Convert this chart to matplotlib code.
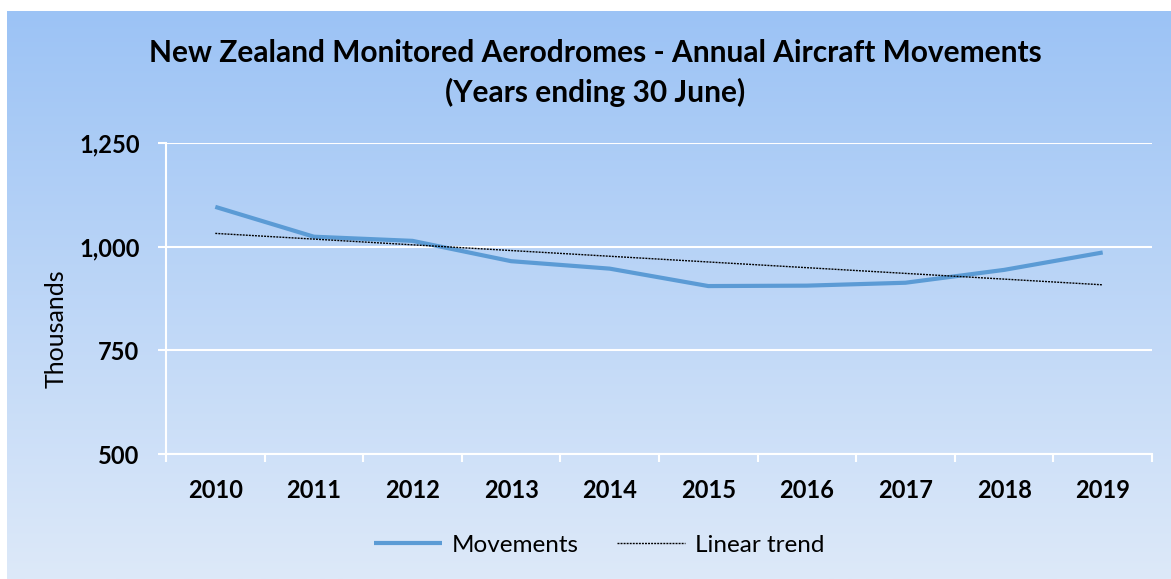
import numpy as np
import matplotlib.pyplot as plt
from matplotlib.colors import LinearSegmentedColormap

years = ['2010', '2011', '2012', '2013', '2014', '2015', '2016', '2017', '2018', '2019']
movements = [1096, 1024, 1014, 965, 947, 905, 906, 913, 944, 986]
y_ticks = [500, 750, 1000, 1250]

plt.rcParams['font.family'] = ['Lato', 'DejaVu Sans']

W, H = 1171, 579
fig = plt.figure(figsize=(W / 100, H / 100), dpi=100)
fig.patch.set_facecolor('white')

# gradient background of the chart area
bg = fig.add_axes([7 / W, 0, 1 - 7 / W, 1 - 11 / H], zorder=0)
cmap = LinearSegmentedColormap.from_list('bg', ['#9cc3f5', '#dde9f9'])
bg.imshow(np.linspace(0, 1, 256).reshape(-1, 1), aspect='auto', cmap=cmap,
          extent=[0, 1, 0, 1])
bg.set_axis_off()

ax = fig.add_axes([166 / W, 1 - 454 / H, (1152 - 166) / W, (454 - 143) / H], zorder=1)
ax.patch.set_alpha(0)

x = np.arange(len(years))
ax.plot(x, movements, color='#5b9bd5', lw=3.0, solid_capstyle='butt', label='Movements',
        zorder=3)
coef = np.polyfit(x, movements, 1)
ax.plot(x, np.polyval(coef, x), color='black', lw=1.0, ls=(0, (1.4, 0.8)),
        label='Linear trend', zorder=4)

ax.set_xlim(-0.5, len(years) - 0.5)
ax.set_ylim(500, 1250)
ax.set_yticks(y_ticks)
ax.set_yticklabels([f'{v:,}' for v in y_ticks], fontsize=17, fontweight='bold')
ax.set_xticks(x)
ax.set_xticklabels(years, fontsize=17, fontweight='bold')
ax.set_xticks(np.arange(-0.5, len(years)), minor=True)
ax.tick_params(axis='x', which='major', length=0, pad=18)
ax.tick_params(axis='x', which='minor', length=6, color='white', width=1.5)
ax.tick_params(axis='y', length=6, color='white', width=1.5, pad=13)
ax.grid(axis='y', color='white', lw=1.5)
for s in ['top', 'right']:
    ax.spines[s].set_visible(False)
for s in ['left', 'bottom']:
    ax.spines[s].set_color('white')
    ax.spines[s].set_linewidth(1.5)

fig.text(56 / W, 1 - 329 / H, 'Thousands', rotation=90, ha='center', va='center',
         fontsize=18)
fig.text(595 / W, 1 - 53 / H, 'New Zealand Monitored Aerodromes - Annual Aircraft Movements',
         ha='center', va='center', fontsize=21.5, fontweight='bold')
fig.text(595 / W, 1 - 92 / H, '(Years ending 30 June)', ha='center', va='center',
         fontsize=21.5, fontweight='bold')

fig.legend(loc='center', bbox_to_anchor=(599 / W, 1 - 545 / H), ncol=2, frameon=False,
           fontsize=17.5, handlelength=2.8, columnspacing=1.6, handletextpad=0.4)

fig.savefig('out.png', dpi=100, facecolor=fig.get_facecolor())
